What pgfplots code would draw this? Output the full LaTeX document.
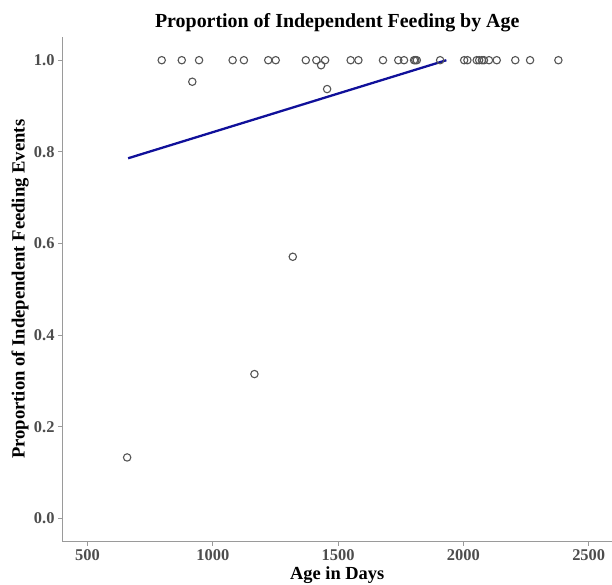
\documentclass[border=0pt]{standalone}
\usepackage{fontspec}
\setmainfont{Liberation Serif}
\usepackage{pgfplots}
\pgfplotsset{compat=1.18}
\definecolor{axgray}{HTML}{9A9A9A}
\definecolor{ticklab}{HTML}{4D4D4D}
\definecolor{ptgray}{HTML}{555555}
\definecolor{lineblue}{HTML}{10109A}
\pgfplotstableread{
x y
796 1
876 1
945 1
1079 1
1124 1
1221 1
1251 1
1371 1
1413 1
1448 1
1550 1
1581 1
1679 1
1740 1
1763 1
1803 1
1808 1
1814 1
1907 1
2003 1
2016 1
2053 1
2063 1
2074 1
2082 1
2102 1
2133 1
2207 1
2266 1
2379 1
918 0.953
1432 0.989
1456 0.937
1319 0.571
1166 0.315
658 0.133
}\pts
\begin{document}
\begin{tikzpicture}
\begin{axis}[
  scale only axis, width=549.5bp, height=504bp,
  xmin=400, xmax=2593, ymin=-0.05, ymax=1.05,
  axis x line*=bottom, axis y line*=left,
  axis line style={axgray, line width=0.9bp},
  xtick={500,1000,1500,2000,2500}, ytick={0,0.2,0.4,0.6,0.8,1.0},
  xticklabel style={/pgf/number format/1000 sep={}},
  yticklabel style={/pgf/number format/.cd, fixed, fixed zerofill, precision=1},
  /pgf/number format/assume math mode=true,
  tick style={axgray, line width=0.9bp}, tick align=outside, major tick length=4.5bp,
  ticklabel style={font=\fontsize{16.5}{16.5}\selectfont\bfseries, text=ticklab},
  xlabel={Age in Days}, ylabel={Proportion of Independent Feeding Events},
  xlabel style={font=\fontsize{18.5}{18.5}\selectfont\bfseries, at={(axis description cs:0.5,-0.0675)}, anchor=center},
  ylabel style={font=\fontsize{18.7}{18.7}\selectfont\bfseries, at={(axis description cs:-0.0773,0.5)}, anchor=center},
  title={Proportion of Independent Feeding by Age},
  title style={font=\fontsize{20}{20}\selectfont\bfseries, at={(axis description cs:0.5,1)}, anchor=base, yshift=4bp},
]
\addplot[only marks, mark=o, mark size=3.7bp, mark options={ptgray, line width=1.1bp}] table[x=x, y=y] {\pts};
\addplot[lineblue, line width=2.3bp] coordinates {(662,0.786) (1932,1.0)};
\coordinate (sw) at (rel axis cs:0,0);
\coordinate (ne) at (rel axis cs:1,1);
\end{axis}
\pgfresetboundingbox
\path ([shift={(-62.5bp,-43bp)}]sw) rectangle ([shift={(0bp,37.3bp)}]ne);
\end{tikzpicture}
\end{document}
